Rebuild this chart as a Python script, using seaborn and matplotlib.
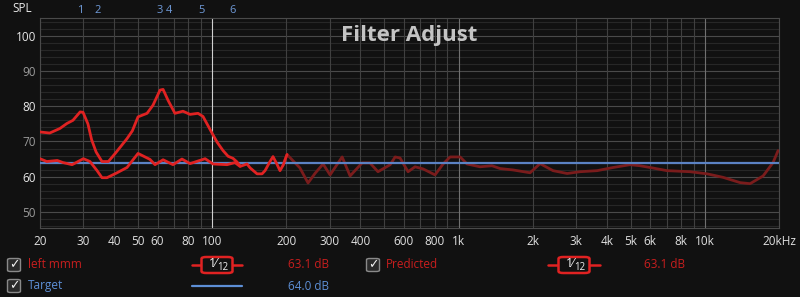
import numpy as np
import pandas as pd
import matplotlib
matplotlib.use("Agg")
import matplotlib.pyplot as plt
import seaborn as sns
from matplotlib.lines import Line2D
from matplotlib.patches import FancyBboxPatch

# ---------------- data ----------------
meas_freq = [20, 21.9, 24.1, 25.7, 27.2, 29.1, 29.9, 31.3, 32.4, 33.8, 35.7, 37.9, 40.4,
             45.1, 47.4, 50, 54.4, 57.5, 61.4, 63.2, 66.2, 70.6, 76.1, 81.3, 87.6, 91.8,
             100, 104.7, 110.7, 116, 121.5, 126, 130]
meas_spl = [72.7, 72.4, 73.7, 75.1, 76.0, 78.4, 78.3, 75.0, 70.5, 67.0, 64.3, 64.3, 66.6,
            70.8, 73.0, 77.0, 78.0, 80.3, 84.6, 84.8, 81.7, 78.0, 78.6, 77.7, 78.0, 77.1,
            72.3, 69.8, 67.4, 65.8, 65.2, 64.2, 63.0]

pred_freq = [20, 21.3, 23.5, 24.8, 27.0, 30, 31.9, 34.1, 35.7, 37.4, 41.1, 45.1, 50, 55.9,
             58.6, 63.2, 69.3, 75.4, 81.3, 93.6, 100.8, 114.9, 123.8, 129.7, 138.5, 142.5,
             152.1, 159.4, 163.9, 171.7, 176.6, 183.3, 188.5, 193.9, 201.3,
             213, 227, 245, 262, 282, 301, 337, 363, 406, 437, 471, 528, 553, 579, 624,
             666, 718, 803, 866, 924, 1015, 1083, 1223, 1368, 1475, 1666, 1952, 2143,
             2420, 2760, 3115, 3651, 4242, 4971, 5458, 5994, 7026, 8710, 10210, 11860,
             13900, 15260, 17240, 18920, 19830]
pred_spl = [65.1, 64.3, 64.6, 64.0, 63.4, 65.1, 64.3, 61.7, 59.7, 59.7, 61.1, 62.6, 66.6, 64.9,
            63.4, 64.8, 63.4, 65.0, 63.7, 65.1, 63.6, 63.4, 64.0, 62.9, 63.6, 62.5,
            60.8, 60.8, 61.7, 64.3, 65.7, 63.5, 61.7, 63.2, 66.3,
            64.5, 62.5, 58.2, 61.0, 63.6, 60.5, 65.6, 60.2, 63.9, 63.9, 61.4, 63.4, 65.6, 65.3, 61.4,
            62.8, 62.2, 60.5, 63.6, 65.6, 65.6, 63.6, 62.8, 63.1, 62.3, 61.9, 61.1, 63.7,
            61.7, 60.9, 61.4, 61.7, 62.6, 63.4, 63.1, 62.6, 61.7, 61.4, 60.8, 59.8,
            58.3, 58.0, 60.2, 64.0, 67.4]

target_freq = [20, 20000]
target_spl = [64.0, 64.0]

filter_freqs = [29.1, 34.4, 61.5, 66.9, 90.2, 120.6]
filter_labels = ["1", "2", "3", "4", "5", "6"]

xtick_vals = [20, 30, 40, 50, 60, 70, 80, 90, 100, 200, 300, 400, 500, 600, 700, 800, 900,
              1000, 2000, 3000, 4000, 5000, 6000, 7000, 8000, 9000, 10000, 20000]
xtick_text = ["20", "30", "40", "50", "60", "", "80", "", "100", "200", "300", "400", "", "600",
              "", "800", "", "1k", "2k", "3k", "4k", "5k", "6k", "", "8k", "", "10k", "20kHz"]
ytick_vals = [50, 60, 70, 80, 90, 100]

# ---------------- style ----------------
BG = "#111111"
sns.set_theme(style="dark", rc={"figure.facecolor": BG, "axes.facecolor": BG,
                                "savefig.facecolor": BG})
plt.rcParams["font.family"] = ["Open Sans", "DejaVu Sans"]

fig = plt.figure(figsize=(8.0, 2.97), dpi=100)
ax = fig.add_axes([40 / 800, 1 - 228 / 297, 739 / 800, 210 / 297])

# grid
ax.set_xscale("log")
ax.set_xlim(20, 20000)
ax.set_ylim(45.4, 105.1)
for v in np.arange(46, 106, 2):
    ax.axhline(v, color="#4a4a4a" if v % 10 == 0 else "#272727", lw=0.8, zorder=0)
for v in xtick_vals:
    if v == 100:
        c = "#d0d0d0"
    elif v in (1000, 10000):
        c = "#707070"
    else:
        c = "#404040"
    ax.axvline(v, color=c, lw=0.8, zorder=0)

# curves
meas_df = pd.DataFrame({"f": meas_freq, "spl": meas_spl})
pred_df = pd.DataFrame({"f": pred_freq, "spl": pred_spl})
tgt_df = pd.DataFrame({"f": target_freq, "spl": target_spl})
pred_low = pred_df[pred_df.f <= 201.3]
pred_high = pred_df[pred_df.f >= 193.9]

sns.lineplot(data=pred_high, x="f", y="spl", ax=ax, color="#7a1c1c", lw=2.0, zorder=3,
             estimator=None, sort=False)
sns.lineplot(data=tgt_df, x="f", y="spl", ax=ax, color="#5b82c4", lw=1.6, zorder=4,
             estimator=None, sort=False)
sns.lineplot(data=pred_low, x="f", y="spl", ax=ax, color="#e02222", lw=2.0, zorder=5,
             estimator=None, sort=False)
sns.lineplot(data=meas_df, x="f", y="spl", ax=ax, color="#e02222", lw=2.0, zorder=5,
             estimator=None, sort=False)

# axes
ax.set_xlabel("")
ax.set_ylabel("")
ax.set_xticks(xtick_vals)
ax.set_xticklabels(xtick_text)
ax.minorticks_off()
ax.set_yticks(ytick_vals)
ax.set_yticklabels([str(v) for v in ytick_vals])
ax.tick_params(axis="x", length=0, pad=5, labelsize=8.5, colors="#e0e0e0")
ax.tick_params(axis="y", length=0, pad=3, labelsize=8.5)
for lab, v in zip(ax.get_yticklabels(), ytick_vals):
    lab.set_color("#e8e8e8" if v % 20 == 0 else "#9a9a9a")
for s in ax.spines.values():
    s.set_color("#4a4a4a")
    s.set_linewidth(0.8)
ax.grid(False)

# filter markers
for f, t in zip(filter_freqs, filter_labels):
    ax.text(f, 1.035, t, transform=ax.get_xaxis_transform(), ha="center", va="center",
            color="#6f9ad8", fontsize=8)

fig.text(22 / 800, 1 - 8 / 297, "SPL", color="#e8e8e8", fontsize=8.5, ha="center", va="center")
ax.text(0.5, 0.915, "Filter Adjust", transform=ax.transAxes, ha="center", va="center",
        color="#c4c4c4", fontsize=16, fontweight="bold")

# ---------------- legend area ----------------
def fx(x):
    return x / 800

def fy(y):
    return 1 - y / 297

RED = "#c81e1e"
BLUE = "#5d8fd6"

def checkbox(xc, yc):
    w, h = 13 / 800, 13 / 297
    box = FancyBboxPatch((fx(xc) - w / 2, fy(yc) - h / 2), w, h,
                         boxstyle="round,pad=0,rounding_size=0.004",
                         transform=fig.transFigure, facecolor="#2a2a2a",
                         edgecolor="#8a8a8a", lw=1.0)
    fig.add_artist(box)
    fig.text(fx(xc), fy(yc), "✓", color="#f0f0f0", fontsize=9, ha="center", va="center",
             family=["DejaVu Sans"], fontweight="bold")

def smooth_sample(x0, x1, yc):
    xc = (x0 + x1) / 2
    fig.add_artist(Line2D([fx(x0), fx(x1)], [fy(yc), fy(yc)], color="#e02222", lw=1.8,
                          transform=fig.transFigure))
    w, h = 31 / 800, 16 / 297
    box = FancyBboxPatch((fx(xc) - w / 2, fy(yc) - h / 2), w, h,
                         boxstyle="round,pad=0,rounding_size=0.006",
                         transform=fig.transFigure, facecolor=BG,
                         edgecolor="#e02222", lw=1.8, zorder=3)
    fig.add_artist(box)
    fig.text(fx(xc - 4), fy(yc - 1.5), "1⁄", color="#f0f0f0", fontsize=9,
             ha="center", va="center", zorder=4)
    fig.text(fx(xc + 6), fy(yc + 2), "12", color="#f0f0f0", fontsize=7,
             ha="center", va="center", zorder=4)

checkbox(14, 265)
fig.text(fx(28), fy(265), "left mmm", color=RED, fontsize=8.5, ha="left", va="center")
smooth_sample(192, 242, 265)
fig.text(fx(308), fy(265), "63.1 dB", color=RED, fontsize=8.5, ha="center", va="center")

checkbox(373, 265)
fig.text(fx(386), fy(265), "Predicted", color=RED, fontsize=8.5, ha="left", va="center")
smooth_sample(548, 600, 265)
fig.text(fx(664), fy(265), "63.1 dB", color=RED, fontsize=8.5, ha="center", va="center")

checkbox(14, 286)
fig.text(fx(28), fy(286), "Target", color=BLUE, fontsize=8.5, ha="left", va="center")
fig.add_artist(Line2D([fx(192), fx(242)], [fy(286), fy(286)], color=BLUE, lw=1.6,
                      transform=fig.transFigure))
fig.text(fx(308), fy(286), "64.0 dB", color=BLUE, fontsize=8.5, ha="center", va="center")

fig.savefig("out.png", dpi=100, facecolor=BG)
